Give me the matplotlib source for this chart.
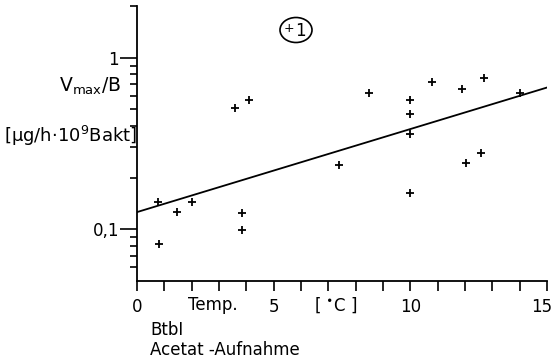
import matplotlib
matplotlib.use('Agg')
import matplotlib.pyplot as plt
import matplotlib.transforms as mtransforms
from matplotlib.patches import Ellipse
from matplotlib.ticker import FixedLocator, NullFormatter

# Messwerte (Temperatur in °C, Vmax/B)
temp = [0.75, 1.45, 2.0, 0.8, 3.85, 3.85, 3.6, 4.1, 8.5, 10.0, 10.0, 10.8,
        11.9, 12.7, 14.0, 10.0, 7.4, 12.05, 12.6, 10.0]
vmax_b = [0.144, 0.127, 0.144, 0.082, 0.124, 0.099, 0.51, 0.57, 0.62, 0.57, 0.47, 0.72,
          0.66, 0.765, 0.625, 0.36, 0.236, 0.242, 0.277, 0.162]

# Regressionsgerade
linie_x = [0, 15]
linie_y = [0.126, 0.67]

W, H = 555, 361
fig = plt.figure(figsize=(W / 100, H / 100), dpi=100)
ax = fig.add_axes([137 / W, 1 - 281 / H, 410 / W, 275 / H])

ax.plot(temp, vmax_b, linestyle='none', marker='+', color='black', markersize=6, mew=1.3)
ax.plot(linie_x, linie_y, color='black', linewidth=1.3)

ax.set_yscale('log')
ax.set_xlim(0, 15)
ax.set_ylim(0.05, 2)

for s in ['top', 'right']:
    ax.spines[s].set_visible(False)
ax.spines['left'].set_linewidth(1.3)
ax.spines['bottom'].set_linewidth(1.3)

ax.xaxis.set_major_locator(FixedLocator([0, 5, 10, 15]))
ax.xaxis.set_minor_locator(FixedLocator([1, 2, 3, 4, 6, 7, 8, 9, 11, 12, 13, 14]))
ax.set_xticklabels(['0', '5', '10', '15'])
ax.tick_params(axis='x', which='both', length=7, width=1.2, direction='out', labelsize=12, pad=5)
# letzte Beschriftung etwas nach links, damit sie nicht abgeschnitten wird
lbl15 = ax.get_xticklabels()[-1]
lbl15.set_transform(lbl15.get_transform() + mtransforms.ScaledTranslation(-5 / 100, 0, fig.dpi_scale_trans))

ax.yaxis.set_major_locator(FixedLocator([0.1, 1]))
ax.set_yticklabels(['0,1', '1'])
ax.yaxis.set_minor_locator(FixedLocator([0.06, 0.07, 0.08, 0.09, 0.2, 0.3, 0.4, 0.5,
                                         0.6, 0.7, 0.8, 0.9, 2]))
ax.yaxis.set_minor_formatter(NullFormatter())
ax.tick_params(axis='y', which='major', length=12, width=1.2, direction='out', labelsize=12, pad=1)
ax.tick_params(axis='y', which='minor', length=5, width=1.2, direction='out')

def ft(x, y, s, size=12, **kw):
    fig.text(x / W, 1 - y / H, s, fontsize=size, va='center', **kw)

ft(121, 86, r'V$_{\mathregular{max}}$/B', size=13.5, ha='right')
ft(4, 136, r'[$\mathregular{\mu}$g/h$\cdot$10$^{\mathregular{9}}$Bakt]', size=13, ha='left')
ft(188, 305, 'Temp.', ha='left')
ft(314, 305, '[ $\\mathregular{^{\\bullet}}$C ]', ha='left')
ft(150, 330, 'BtbI', ha='left')
ft(150, 350, 'Acetat -Aufnahme', ha='left')

fig.patches.append(Ellipse((296 / W, 1 - 30 / H), 32 / W, 25 / H, transform=fig.transFigure,
                           fill=False, edgecolor='black', linewidth=1.2))
ft(289, 29, '+', size=9, ha='center')
ft(300, 31, '1', ha='center')

fig.savefig('out.png', dpi=100)
